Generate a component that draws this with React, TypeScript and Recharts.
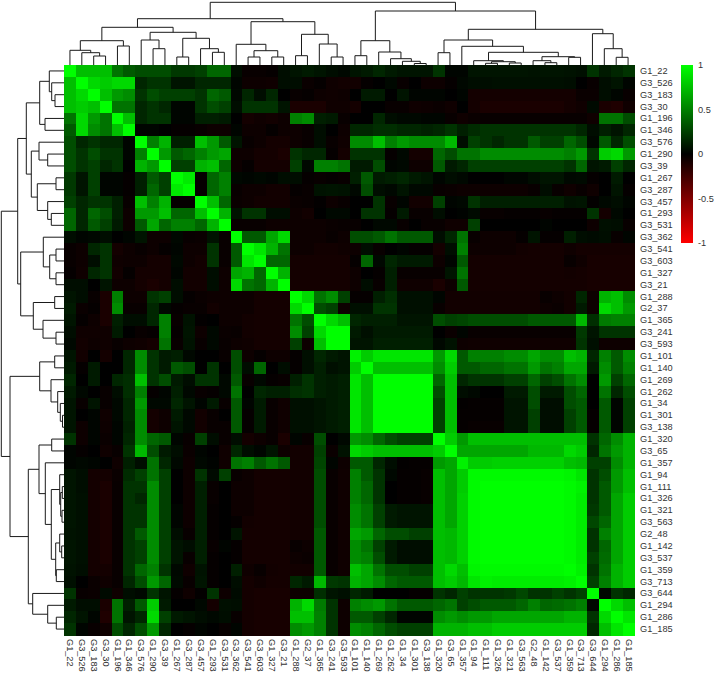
// Correlation heatmap with mirrored dendrograms, drawn with Recharts scatter series
import React from "react";
import { Bar, BarChart, Scatter, ScatterChart, XAxis, YAxis } from "recharts";

const labels = [
  "G1_22", "G3_526", "G3_183", "G3_30", "G1_196", "G1_346", "G3_576", "G1_290",
  "G3_39", "G1_267", "G3_287", "G3_457", "G1_293", "G3_531", "G3_362", "G3_541",
  "G3_603", "G1_327", "G3_21", "G1_288", "G2_37", "G1_365", "G3_241", "G3_593",
  "G1_101", "G1_140", "G1_269", "G1_262", "G1_34", "G1_301", "G3_138", "G1_320",
  "G3_65", "G1_357", "G1_94", "G1_111", "G1_326", "G1_321", "G3_563", "G2_48",
  "G1_142", "G3_537", "G1_359", "G3_713", "G3_644", "G1_294", "G1_286", "G1_185",
];

// upper triangle of the correlation matrix in hundredths, each row starts on the diagonal
const row00 = [100,75,75,75,45,35,30,30,30,22,22,25,40,40,5,-3,-3,-2,5,8,10,8,5,3,8,10,15,10,8,8,8,20,2,2,8,8,8,8,8,7,8,8,7,6,20,10,15,20];
const row01 = [100,85,80,85,85,15,20,20,8,8,15,15,15,2,-5,-5,-6,5,5,-4,-2,-6,-7,-7,-2,0,3,-3,0,-5,-5,-2,3,5,5,6,6,6,6,6,6,5,0,-3,5,8,2];
const row02 = [100,75,60,55,20,30,25,25,25,20,40,35,3,15,5,15,0,-3,-2,-5,-6,-5,0,10,10,0,8,2,2,2,0,2,-8,-8,-8,-8,-8,-8,-8,-8,-8,-4,-4,5,2,-3];
const row03 = [100,45,45,15,20,15,2,2,20,30,25,5,20,20,20,8,-10,-10,-10,-6,-6,-8,0,0,-3,-3,-6,-5,-4,-6,0,-8,-10,-10,-10,-10,-10,-10,-10,-8,-6,4,-10,-12,-6];
const row04 = [100,75,15,20,20,2,2,12,12,10,0,-8,-6,-7,-5,50,55,12,10,-3,0,0,15,5,3,3,2,2,-3,-6,-4,-3,-3,-3,-3,-3,-3,-3,-3,-3,-6,45,45,30];
const row05 = [100,2,2,0,-2,-2,-3,-5,-5,2,-5,-5,-2,-5,-5,-3,5,0,-5,15,15,18,18,15,15,13,15,20,12,17,20,20,20,20,20,20,20,20,15,5,12,8,15];
const row06 = [100,50,70,12,12,75,60,35,8,-3,-5,-8,-8,-5,-3,5,-3,-6,55,55,75,50,60,55,55,55,72,5,25,20,15,20,20,35,25,25,40,30,3,35,15,30];
const row07 = [100,60,35,40,50,60,65,-5,-5,-8,-8,-10,20,15,15,-2,-8,20,20,20,-2,3,-8,-8,40,30,45,45,55,55,55,55,55,55,55,50,60,20,80,85,60];
const row08 = [100,25,25,70,75,40,-5,-2,-8,-8,-8,25,3,50,50,45,10,10,30,2,3,-5,-5,35,10,15,25,25,25,25,25,25,25,25,20,40,8,10,25,15];
const row09 = [100,92,-2,40,50,3,2,3,2,5,5,-2,-3,-2,-3,12,35,10,12,15,10,8,2,5,3,0,0,0,2,2,5,8,8,3,4,-2,0,10,0];
const row10 = [100,-2,40,50,-3,-5,-5,-7,-7,-2,-3,7,8,7,3,30,5,3,8,3,3,-3,-4,-5,-5,-5,-5,-5,-5,-3,5,-3,-6,-3,-6,0,8,-2];
const row11 = [100,75,40,-4,-5,-7,-7,-7,-4,-3,-1,-5,-3,0,0,20,-3,2,-7,-7,25,2,3,20,12,12,12,12,12,12,12,7,8,-1,3,5,2];
const row12 = [100,70,7,20,20,5,5,-5,-7,0,3,3,0,20,20,-2,10,-3,-3,5,0,1,4,-3,-3,-2,-2,-2,-3,-2,-2,-2,20,-8,3,0];
const row13 = [100,-3,-3,-3,-5,-5,-5,-5,-5,-4,-3,-3,0,3,3,-3,0,-3,-3,-6,-6,25,0,0,0,0,0,2,0,0,0,-5,6,5,-3];
const row14 = [100,35,35,65,85,-5,-5,-5,-3,-5,30,30,35,45,35,35,35,5,15,45,-3,-5,-5,-5,-2,8,-2,-2,12,5,4,5,-3,2];
const row15 = [100,90,70,45,-5,-5,-7,-7,-6,-5,5,-3,0,2,-2,-2,-8,5,50,-5,-5,-5,-5,-7,-8,-8,-8,-6,-8,-8,-8,-8,-8];
const row16 = [100,40,40,-8,-8,-8,-8,-8,-2,40,3,15,10,10,10,-5,2,35,-8,-8,-8,-8,-8,-8,-8,-8,-3,-6,-9,-9,-9,-9];
const row17 = [100,70,-8,-8,-8,-8,-8,-5,0,-2,12,-3,-3,-3,-3,8,45,-8,-8,-8,-8,-8,-8,-8,-8,-7,-8,-9,-9,-9,-9];
const row18 = [100,-8,-8,-8,-8,-8,-5,5,-3,12,-6,-6,-6,-10,-5,35,-8,-8,-8,-8,-8,-8,-8,-8,-8,-8,-9,-9,-9,-9];
const row19 = [100,85,45,55,25,-2,-2,12,18,6,6,6,2,-7,-7,-7,-7,-7,-7,-7,-7,-3,-5,-7,15,-5,70,75,55];
const row20 = [100,30,25,-5,6,6,20,20,6,6,6,-3,-7,-7,-7,-7,-7,-7,-7,-7,-5,-4,-7,10,-5,85,75,60];
const row21 = [100,85,75,15,12,12,12,8,8,8,30,25,27,30,30,30,30,30,35,35,35,35,72,18,48,50,50];
const row22 = [100,100,10,6,10,10,10,10,10,0,-4,2,-3,-3,-3,-3,-3,-3,-3,-3,-3,22,8,20,20,20];
const row23 = [100,8,8,12,12,12,12,12,3,7,-5,-6,-6,-6,-6,-6,-6,-6,-6,-6,20,6,-5,-5,-5];
const row24 = [95,80,90,90,90,90,90,60,85,35,50,50,50,55,55,65,55,55,75,70,15,50,35,55];
const row25 = [100,75,75,75,75,75,55,80,35,35,40,40,45,45,60,45,50,65,65,10,55,35,50];
const row26 = [100,100,100,100,100,40,75,15,20,20,20,25,25,40,25,30,45,55,0,60,25,40];
const row27 = [100,100,100,100,30,75,5,3,0,0,10,10,30,10,10,30,40,0,45,15,30];
const row28 = [100,100,100,25,75,-1,-2,-2,-2,8,8,30,5,5,30,35,0,35,2,25];
const row29 = [100,100,25,75,-2,-2,-2,-2,8,8,25,5,5,25,35,-2,35,2,25];
const row30 = [100,25,75,-2,-3,-3,-3,8,8,25,5,5,25,35,-2,35,2,25];
const row31 = [100,80,60,75,75,75,75,75,75,75,75,75,75,20,40,55,70];
const row32 = [100,65,65,65,65,65,65,72,72,72,85,80,15,45,60,70];
const row33 = [95,80,80,82,82,82,82,82,82,75,72,25,25,55,70];
const row34 = [98,98,98,98,98,98,98,98,96,90,20,30,60,75];
const row35 = [100,100,100,100,100,100,100,98,95,20,35,60,75];
const row36 = [100,100,100,100,100,100,98,93,20,35,65,80];
const row37 = [100,100,100,100,100,98,93,22,35,65,80];
const row38 = [100,100,100,100,98,93,28,40,65,80];
const row39 = [100,100,100,98,93,20,50,65,80];
const row40 = [100,100,98,93,20,40,65,80];
const row41 = [100,98,93,25,42,65,80];
const row42 = [100,95,20,45,70,80];
const row43 = [100,25,50,70,80];
const row44 = [100,3,20,15];
const row45 = [100,85,75];
const row46 = [100,90];
const row47 = [100];

const upperRows = [
  row00, row01, row02, row03, row04, row05, row06, row07, row08, row09, row10, row11,
  row12, row13, row14, row15, row16, row17, row18, row19, row20, row21, row22, row23,
  row24, row25, row26, row27, row28, row29, row30, row31, row32, row33, row34, row35,
  row36, row37, row38, row39, row40, row41, row42, row43, row44, row45, row46, row47,
];

// linkage table: [left, right, height]; ids under 48 are leaves, 48 and up are earlier merges
const merges: [number, number, number][] = [
  [2, 3, 9], [1, 48, 12.3], [0, 49, 14.7], [4, 5, 19], [50, 51, 24.3],
  [7, 8, 16.3], [6, 53, 25], [9, 10, 8], [12, 13, 12.7], [11, 56, 16.3],
  [55, 57, 26.7], [54, 58, 32.7], [52, 59, 37.7], [15, 16, 8], [17, 18, 8],
  [61, 62, 14.3], [14, 63, 20.7], [19, 20, 9.3], [22, 23, 8], [21, 66, 21],
  [65, 67, 30.7], [64, 68, 43.3], [60, 69, 46.3], [24, 25, 9.3], [29, 30, 1.5],
  [28, 72, 3.7], [27, 73, 6.3], [26, 74, 13], [71, 75, 24.3], [31, 32, 12.3],
  [35, 36, 1.7], [37, 38, 2], [78, 79, 3.3], [34, 80, 4.3], [40, 41, 2.3],
  [39, 82, 4.3], [42, 43, 7.7], [83, 84, 8.3], [81, 85, 12.7], [33, 86, 18.7],
  [77, 87, 25], [46, 47, 7.7], [45, 89, 16.3], [44, 90, 31.3], [88, 91, 35.7],
  [76, 92, 54], [70, 93, 62.7],
];

const legendTicks = [-1, -0.5, 0, 0.5, 1];
const legendData = [{ name: "r", range: [-1, 1] }];

const N = labels.length;
const CELL = 570 / N;
const LEAF_COUNT = 48;
const textStyle = { fontFamily: "Liberation Sans, Arial, sans-serif", fontSize: 9.2, fill: "#333" };

const valueAt = (i: number, j: number) =>
  i <= j ? upperRows[i][j - i] / 100 : upperRows[j][i - j] / 100;

const colorFor = (v: number) => {
  const c = Math.round(Math.abs(v) * 255);
  return v >= 0 ? `rgb(0,${c},0)` : `rgb(${c},0,0)`;
};

const cells = labels.flatMap((_, row) =>
  labels.map((__, col) => ({ x: col + 0.5, y: row + 0.5, value: valueAt(row, col) }))
);
const ticks = labels.map((_, i) => i + 0.5);

// each merge becomes a little U: leaf position along the axis plus height
const centers: Record<number, { pos: number; height: number }> = {};
labels.forEach((_, i) => (centers[i] = { pos: i + 0.5, height: 0 }));
const brackets = merges.map(([a, b, height], i) => {
  const l = centers[a];
  const r = centers[b];
  centers[LEAF_COUNT + i] = { pos: (l.pos + r.pos) / 2, height };
  return [
    { pos: l.pos, h: l.height },
    { pos: l.pos, h: height },
    { pos: r.pos, h: height },
    { pos: r.pos, h: r.height },
  ];
});

const HeatCell = (props: any) => (
  <rect
    x={props.cx - CELL / 2}
    y={props.cy - CELL / 2}
    width={CELL + 0.5}
    height={CELL + 0.5}
    shapeRendering="crispEdges"
    fill={colorFor(props.payload.value)}
  />
);

const BottomTick = ({ x, y, payload }: any) => (
  <text
    transform={`translate(${x},${y}) rotate(90)`}
    dominantBaseline="central"
    textAnchor="start"
    {...textStyle}
  >
    {labels[payload.value - 0.5]}
  </text>
);

const RightTick = ({ x, y, payload }: any) => (
  <text x={x} y={y} dominantBaseline="central" textAnchor="start" {...textStyle}>
    {labels[payload.value - 0.5]}
  </text>
);

const NoDot = () => null;
const lineStyle = { stroke: "#1a1a1a", strokeWidth: 1 };

function Heatmap() {
  return (
    <ScatterChart width={715} height={674} margin={{ top: 65, right: 0, bottom: 0, left: 64 }}>
      <XAxis
        type="number"
        dataKey="x"
        domain={[0, N]}
        ticks={ticks}
        interval={0}
        height={39}
        axisLine={false}
        tickLine={false}
        tickSize={0}
        tickMargin={4}
        tick={BottomTick}
      />
      <YAxis
        type="number"
        dataKey="y"
        orientation="right"
        reversed
        domain={[0, N]}
        ticks={ticks}
        interval={0}
        width={80}
        axisLine={false}
        tickLine={false}
        tickSize={0}
        tickMargin={5}
        tick={RightTick}
      />
      <Scatter data={cells} shape={HeatCell} isAnimationActive={false} />
    </ScatterChart>
  );
}

function TopDendrogram() {
  return (
    <ScatterChart width={570} height={65} margin={{ top: 0, right: 0, bottom: 0, left: 0 }}>
      <XAxis type="number" dataKey="pos" domain={[0, N]} hide />
      <YAxis type="number" dataKey="h" domain={[0, 65]} hide />
      {brackets.map((points, i) => (
        <Scatter key={i} data={points} line={lineStyle} shape={NoDot} isAnimationActive={false} />
      ))}
    </ScatterChart>
  );
}

function LeftDendrogram() {
  return (
    <ScatterChart width={64} height={570} margin={{ top: 0, right: 0, bottom: 0, left: 0 }}>
      <XAxis type="number" dataKey="h" reversed domain={[0, 64]} hide />
      <YAxis type="number" dataKey="pos" reversed domain={[0, N]} hide />
      {brackets.map((points, i) => (
        <Scatter key={i} data={points} line={lineStyle} shape={NoDot} isAnimationActive={false} />
      ))}
    </ScatterChart>
  );
}

function ColorKey() {
  return (
    <BarChart
      width={40}
      height={210}
      data={legendData}
      barCategoryGap={0}
      margin={{ top: 15, right: 0, bottom: 17, left: 6 }}
    >
      <defs>
        <linearGradient id="keyFill" x1="0" y1="0" x2="0" y2="1">
          <stop offset="0%" stopColor="#00ff00" />
          <stop offset="50%" stopColor="#000000" />
          <stop offset="100%" stopColor="#ff0000" />
        </linearGradient>
      </defs>
      <XAxis dataKey="name" hide />
      <YAxis
        orientation="right"
        domain={[-1, 1]}
        ticks={legendTicks}
        interval={0}
        width={22}
        axisLine={false}
        tickLine={false}
        tickSize={0}
        tickMargin={5}
        tick={textStyle}
      />
      <Bar dataKey="range" fill="url(#keyFill)" isAnimationActive={false} />
    </BarChart>
  );
}

const place = (left: number, top: number): React.CSSProperties => ({
  position: "absolute",
  left,
  top,
});

export default function App() {
  return (
    <div style={{ position: "absolute", left: 0, top: 0, width: 715, height: 674, background: "#fff" }}>
      <div style={place(0, 0)}>
        <Heatmap />
      </div>
      <div style={place(64, 0)}>
        <TopDendrogram />
      </div>
      <div style={place(0, 65)}>
        <LeftDendrogram />
      </div>
      <div style={place(675, 50)}>
        <ColorKey />
      </div>
    </div>
  );
}
